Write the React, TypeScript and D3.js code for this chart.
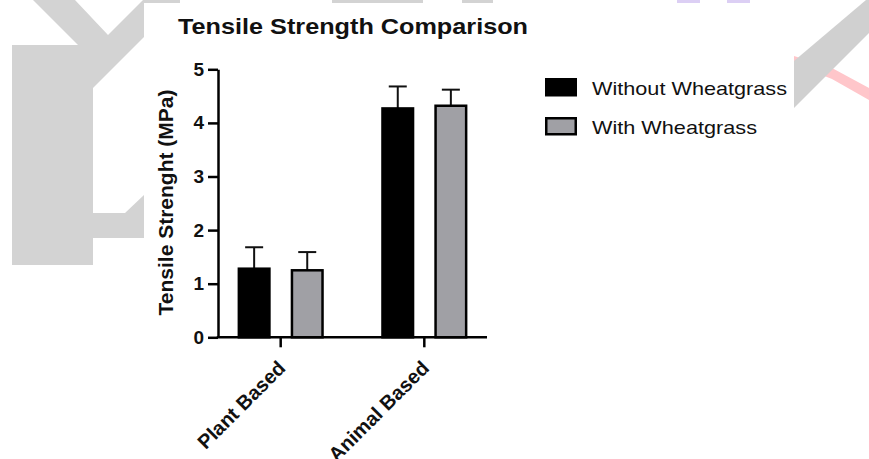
import React, { useEffect, useRef } from 'react';
import * as d3 from 'd3';

// chart data
const categories = ['Plant Based', 'Animal Based'];
const seriesNames = ['Without Wheatgrass', 'With Wheatgrass'];
const withoutMeans = [1.28, 4.27];
const withMeans = [1.25, 4.32];
const withoutErr = [0.40, 0.41];
const withErr = [0.34, 0.30];
const yTicks = [0, 1, 2, 3, 4, 5];
const seriesFill = ['#000000', '#a0a0a5'];

// background watermark pieces (decoration behind the pasted chart)
const leftMark = [
  [33, 0], [75, 0], [108, 35], [143, 0], [144, 0], [144, 37], [93, 88], [93, 213],
  [125, 213], [144, 195], [144, 238], [93, 238], [93, 265], [12, 265], [12, 45], [78, 45],
];
const rightBand = [[794, 61], [866, 0], [869, 0], [869, 33], [794, 108]];
const pinkStroke = [[794, 56], [832, 68], [869, 88], [869, 100], [832, 79], [794, 64]];

const FONT = '"Liberation Sans", Arial, Helvetica, sans-serif';

const App = () => {
  const ref = useRef<SVGSVGElement>(null);

  useEffect(() => {
    const svg = d3.select(ref.current);
    svg.selectAll('*').remove();

    // watermark
    const wm = svg.append('g');
    wm.append('polygon').attr('points', leftMark.map(p => p.join(',')).join(' ')).attr('fill', '#d3d3d3');
    wm.append('polygon').attr('points', pinkStroke.map(p => p.join(',')).join(' ')).attr('fill', '#ffc6ca');
    wm.append('polygon').attr('points', rightBand.map(p => p.join(',')).join(' ')).attr('fill', '#d0d0d0');
    [[144, 36], [332, 91], [462, 31]].forEach(([x, w]) =>
      wm.append('rect').attr('x', x).attr('y', 0).attr('width', w).attr('height', 3).attr('fill', '#d3d3d3'));
    [[677, 23], [727, 23]].forEach(([x, w]) =>
      wm.append('rect').attr('x', x).attr('y', 0).attr('width', w).attr('height', 3).attr('fill', '#dccff4'));

    // white card the chart sits on
    svg.append('rect').attr('x', 144).attr('y', 3).attr('width', 650).attr('height', 456).attr('fill', '#fff');

    const margin = { left: 218, top: 69.3, right: 487, bottom: 337.3 };

    const y = d3.scaleLinear().domain([0, 5]).range([margin.bottom, margin.top]);
    const x0 = d3.scaleBand().domain(categories).range([margin.left, margin.right])
      .paddingInner(0.4).paddingOuter(0.1365);
    const x1 = d3.scaleBand().domain(seriesNames).range([0, x0.bandwidth()]).paddingInner(0.377);

    const rows = categories.map((c, i) => ({
      cat: c,
      vals: [
        { name: seriesNames[0], mean: withoutMeans[i], err: withoutErr[i], fill: seriesFill[0] },
        { name: seriesNames[1], mean: withMeans[i], err: withErr[i], fill: seriesFill[1] },
      ],
    }));

    const g = svg.append('g');
    const groups = g.selectAll('g.grp').data(rows).enter().append('g')
      .attr('class', 'grp')
      .attr('transform', d => 'translate(' + x0(d.cat) + ',0)');

    // error bars (upper only)
    groups.selectAll('g.err').data(d => d.vals).enter().append('g').each(function (d) {
      const cx = (x1(d.name) as number) + x1.bandwidth() / 2;
      const sel = d3.select(this);
      sel.append('line').attr('x1', cx).attr('x2', cx)
        .attr('y1', y(d.mean)).attr('y2', y(d.mean + d.err))
        .attr('stroke', '#111').attr('stroke-width', 2);
      sel.append('line').attr('x1', cx - 9).attr('x2', cx + 9)
        .attr('y1', y(d.mean + d.err)).attr('y2', y(d.mean + d.err))
        .attr('stroke', '#111').attr('stroke-width', 2);
    });

    groups.selectAll('rect').data(d => d.vals).enter().append('rect')
      .attr('x', d => (x1(d.name) as number) + 1.25)
      .attr('width', x1.bandwidth() - 2.5)
      .attr('y', d => y(d.mean))
      .attr('height', d => y(0) - y(d.mean))
      .attr('fill', d => d.fill)
      .attr('stroke', '#000')
      .attr('stroke-width', 2.5);

    // y axis
    const yAxis = g.append('g')
      .attr('transform', 'translate(' + margin.left + ',0)')
      .call(d3.axisLeft(y).tickValues(yTicks).tickFormat(d3.format('d')).tickSize(10).tickSizeOuter(0).tickPadding(4));
    yAxis.select('.domain').attr('stroke', '#000').attr('stroke-width', 2.5);
    yAxis.selectAll('.tick line').attr('stroke', '#000').attr('stroke-width', 2.5);
    yAxis.selectAll('.tick text')
      .attr('font-family', FONT).attr('font-size', 19).attr('font-weight', 'bold').attr('fill', '#111');

    // x axis
    const xAxis = g.append('g')
      .attr('transform', 'translate(0,' + margin.bottom + ')')
      .call(d3.axisBottom(x0).tickSize(10).tickSizeOuter(0));
    xAxis.select('.domain').attr('d', 'M' + (margin.left - 1.25) + ',0H' + margin.right)
      .attr('stroke', '#000').attr('stroke-width', 2.5);
    xAxis.selectAll('.tick line').attr('stroke', '#000').attr('stroke-width', 2.5);
    xAxis.selectAll('.tick text')
      .attr('x', 0).attr('y', 0).attr('dy', 0)
      .attr('text-anchor', 'end')
      .attr('transform', 'translate(6,32) rotate(-45)')
      .attr('font-family', FONT).attr('font-size', 20).attr('font-weight', 'bold').attr('fill', '#111');

    // y axis title
    svg.append('text')
      .attr('transform', 'translate(173,202.5) rotate(-90)')
      .attr('text-anchor', 'middle')
      .attr('font-family', FONT).attr('font-size', 21).attr('font-weight', 'bold').attr('fill', '#111')
      .text('Tensile Strenght (MPa)');

    // chart title
    svg.append('text')
      .attr('x', 178).attr('y', 33.5)
      .attr('textLength', 350).attr('lengthAdjust', 'spacingAndGlyphs')
      .attr('font-family', FONT).attr('font-size', 22).attr('font-weight', 'bold').attr('fill', '#111')
      .text('Tensile Strength Comparison');

    // legend
    const legendW = [195, 165];
    const leg = svg.append('g').attr('transform', 'translate(545,78)');
    seriesNames.forEach((s, i) => {
      leg.append('rect')
        .attr('x', 1.25).attr('y', i * 39 + 1.25)
        .attr('width', 29.5).attr('height', 16)
        .attr('fill', seriesFill[i]).attr('stroke', '#000').attr('stroke-width', 2.5);
      leg.append('text')
        .attr('x', 47).attr('y', i * 38.5 + 17)
        .attr('textLength', legendW[i]).attr('lengthAdjust', 'spacingAndGlyphs')
        .attr('font-family', FONT).attr('font-size', 19).attr('fill', '#111')
        .text(s);
    });
  }, []);

  return (
    <svg ref={ref} width={869} height={459}
      style={{ position: 'absolute', left: 0, top: 0, background: '#fff' }} />
  );
};

export default App;
